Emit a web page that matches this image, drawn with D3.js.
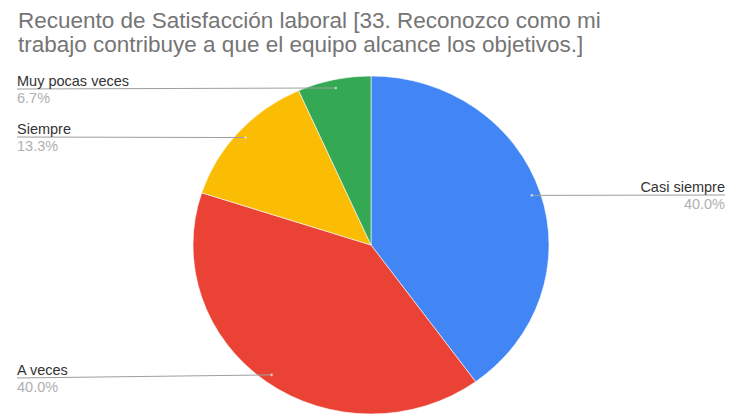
<!DOCTYPE html>
<html>
<head>
<meta charset="utf-8">
<script src="https://cdn.jsdelivr.net/npm/d3@7"></script>
<style>
  html, body { margin: 0; padding: 0; background: #ffffff; }
  svg { display: block; }
</style>
</head>
<body>
<svg id="chart" width="729" height="419"></svg>
<script>
// Response categories and their counts (shares of 15 responses)
const categories = ["Casi siempre", "A veces", "Siempre", "Muy pocas veces"];
const values = [6, 6, 2, 1];
const colors = ["#4285F4", "#EA4335", "#FBBC04", "#34A853"];
const titleLines = [
  "Recuento de Satisfacción laboral [33. Reconozco como mi",
  "trabajo contribuye a que el equipo alcance los objetivos.]"
];

const cx = 371, cy = 245;
const rx = 178, ry = 169;      // the pie is drawn slightly flattened
const svg = d3.select("#chart");

// Title, two lines
const title = svg.append("text")
  .attr("font-family", "Liberation Sans, Arial, sans-serif")
  .attr("font-size", 22.5)
  .attr("fill", "#757575");
titleLines.forEach((t, i) => {
  title.append("tspan").attr("x", 18).attr("y", 28 + i * 24).text(t);
});

// Pie
const total = d3.sum(values);
const pie = d3.pie().sort(null).value(d => d.v);
const arcs = pie(categories.map((c, i) => ({ c, v: values[i], color: colors[i] })));
const arc = d3.arc().innerRadius(0).outerRadius(rx);
const anchorArc = d3.arc().innerRadius(rx * 0.95).outerRadius(rx * 0.95);

const g = svg.append("g")
  .attr("transform", `translate(${cx},${cy}) scale(1,${ry / rx})`);
g.selectAll("path").data(arcs).enter().append("path")
  .attr("d", arc)
  .attr("fill", d => d.data.color)
  .attr("stroke", "#ffffff")
  .attr("stroke-width", 0.6);

// Leader-line heights for each label; left column for slices on the left
const labelY = { "Casi siempre": 195, "A veces": 378, "Siempre": 137, "Muy pocas veces": 89 };
const fmt = d => (d.data.v / total * 100).toFixed(1) + "%";

const labels = svg.append("g")
  .attr("font-family", "Liberation Sans, Arial, sans-serif")
  .attr("font-size", 14.5);

arcs.forEach(d => {
  const [ax, ay] = anchorArc.centroid(d);
  const px = cx + ax, py = cy + ay * ry / rx;
  const mid = (d.startAngle + d.endAngle) / 2;
  const right = mid < Math.PI;
  const ly = labelY[d.data.c];
  const lx = right ? 725 : 17;

  labels.append("path")
    .attr("d", d3.line()([[lx, ly], [px, py]]))
    .attr("fill", "none")
    .attr("stroke", "#9e9e9e")
    .attr("stroke-width", 1);
  labels.append("circle")
    .attr("cx", px).attr("cy", py).attr("r", 1.3)
    .attr("fill", "#ffffff").attr("opacity", 0.6);

  labels.append("text")
    .attr("x", lx).attr("y", ly - 3.5)
    .attr("text-anchor", right ? "end" : "start")
    .attr("fill", "#333333")
    .text(d.data.c);
  labels.append("text")
    .attr("x", lx).attr("y", ly + 13.5)
    .attr("text-anchor", right ? "end" : "start")
    .attr("fill", "#b0b0b0")
    .text(fmt(d));
});
</script>
</body>
</html>
